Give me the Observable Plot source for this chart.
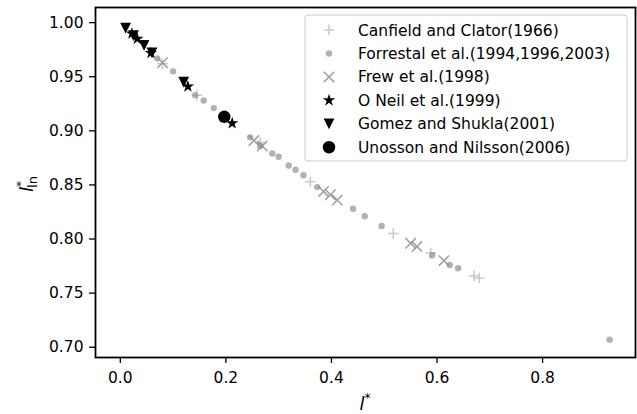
<!DOCTYPE html>
<html>
<head>
<meta charset="utf-8">
<script src="https://cdn.jsdelivr.net/npm/d3@7"></script>
<script src="https://cdn.jsdelivr.net/npm/@observablehq/plot@0.6"></script>
<style>
  html, body { margin: 0; padding: 0; background: white; }
  #chart { width: 637px; height: 414px; }
</style>
</head>
<body>
<div id="chart"></div>
<script>
// ---- data ----
const canfieldX = [0.080, 0.145, 0.265, 0.360, 0.517, 0.588, 0.670, 0.680];
const canfieldY = [0.962, 0.933, 0.889, 0.853, 0.805, 0.787, 0.766, 0.764];

const forrestalX = [0.070, 0.100, 0.142, 0.158, 0.177, 0.246, 0.265, 0.288, 0.300, 0.319, 0.332, 0.347, 0.373, 0.441, 0.463, 0.495, 0.591, 0.624, 0.640, 0.927];
const forrestalY = [0.967, 0.955, 0.933, 0.928, 0.921, 0.894, 0.886, 0.879, 0.876, 0.868, 0.864, 0.859, 0.848, 0.828, 0.821, 0.812, 0.785, 0.776, 0.773, 0.707];

const frewX = [0.080, 0.253, 0.269, 0.385, 0.398, 0.411, 0.550, 0.562, 0.613];
const frewY = [0.963, 0.891, 0.886, 0.844, 0.841, 0.836, 0.796, 0.793, 0.780];

const oneilX = [0.022, 0.032, 0.058, 0.128, 0.212];
const oneilY = [0.990, 0.985, 0.972, 0.941, 0.907];

const gomezX = [0.010, 0.025, 0.045, 0.060, 0.120];
const gomezY = [0.995, 0.988, 0.979, 0.972, 0.945];

const unossonX = [0.197];
const unossonY = [0.913];

const seriesNames = [
  "Canfield and Clator(1966)",
  "Forrestal et al.(1994,1996,2003)",
  "Frew et al.(1998)",
  "O Neil et al.(1999)",
  "Gomez and Shukla(2001)",
  "Unosson and Nilsson(2006)"
];

const xTicks = [0.0, 0.2, 0.4, 0.6, 0.8];
const yTicks = [0.70, 0.75, 0.80, 0.85, 0.90, 0.95, 1.00];

// ---- symbols ----
const triangleDown = {
  draw(ctx, size) {
    const k = Math.sqrt(size / Math.PI);
    ctx.moveTo(-k, -k);
    ctx.lineTo(k, -k);
    ctx.lineTo(0, k);
    ctx.closePath();
  }
};

const styles = [
  {xs: canfieldX, ys: canfieldY, symbol: d3.symbolPlus, r: 3.5, fill: "none", stroke: "#c4c4c4", sw: 1.5, op: 0.9},
  {xs: forrestalX, ys: forrestalY, symbol: d3.symbolCircle, r: 3.2, fill: "#888888", stroke: "none", sw: 0, op: 0.65},
  {xs: frewX, ys: frewY, symbol: d3.symbolTimes, r: 4.8, fill: "none", stroke: "#888888", sw: 1.5, op: 0.8},
  {xs: oneilX, ys: oneilY, symbol: d3.symbolStar, r: 3.9, fill: "black", stroke: "none", sw: 0, op: 1},
  {xs: gomezX, ys: gomezY, symbol: triangleDown, r: 5.4, fill: "black", stroke: "none", sw: 0, op: 1},
  {xs: unossonX, ys: unossonY, symbol: d3.symbolCircle, r: 6.2, fill: "black", stroke: "none", sw: 0, op: 1}
];

const dotMarks = styles.map(s => Plot.dot(
  s.xs.map((x, i) => ({x, y: s.ys[i]})),
  {
    x: "x", y: "y", symbol: s.symbol, r: s.r,
    fill: s.fill, stroke: s.stroke, strokeWidth: s.sw,
    fillOpacity: s.op, strokeOpacity: s.op
  }
));

const fontSize = 15.5;

const plot = Plot.plot({
  width: 637,
  height: 414,
  marginLeft: 95,
  marginRight: 2,
  marginTop: 7,
  marginBottom: 57,
  style: {fontFamily: "DejaVu Sans", fontSize: fontSize + "px", color: "black", background: "white"},
  x: {domain: [-0.047, 0.976]},
  y: {domain: [0.6905, 1.014]},
  marks: [
    ...dotMarks,
    Plot.axisX({ticks: xTicks, tickFormat: d3.format(".1f"), tickSize: 6, tickPadding: 8, label: null, strokeWidth: 1.3}),
    Plot.axisY({ticks: yTicks, tickFormat: d3.format(".2f"), tickSize: 6, tickPadding: 6, label: null, strokeWidth: 1.3}),
    Plot.frame({stroke: "black", strokeWidth: 1.8})
  ]
});

document.getElementById("chart").appendChild(plot);

const svg = d3.select(plot);

// ---- legend ----
const lg = svg.append("g")
  .attr("font-family", "DejaVu Sans")
  .attr("font-size", fontSize)
  .attr("text-anchor", "start");
lg.append("rect")
  .attr("x", 305).attr("y", 15).attr("width", 322).attr("height", 146)
  .attr("rx", 3).attr("ry", 3)
  .attr("fill", "white").attr("fill-opacity", 0.8)
  .attr("stroke", "#cccccc").attr("stroke-width", 1);
seriesNames.forEach((name, i) => {
  const s = styles[i];
  const cy = 30 + i * 23.45;
  lg.append("path")
    .attr("transform", `translate(329,${cy})`)
    .attr("d", d3.symbol(s.symbol, s.r * s.r * Math.PI)())
    .attr("fill", s.fill).attr("stroke", s.stroke).attr("stroke-width", s.sw)
    .attr("fill-opacity", s.op).attr("stroke-opacity", s.op);
  lg.append("text")
    .attr("x", 358).attr("y", cy).attr("dy", "0.36em")
    .attr("text-anchor", "start")
    .attr("fill", "black")
    .text(name);
});

// ---- axis labels ----
const xl = svg.append("text")
  .attr("x", 365).attr("y", 410)
  .attr("text-anchor", "middle")
  .attr("font-family", "DejaVu Sans").attr("font-size", 18)
  .attr("fill", "black");
xl.append("tspan").attr("font-style", "italic").text("l");
xl.append("tspan").attr("dy", -8).attr("font-size", 12).text("*");

const yl = svg.append("text")
  .attr("transform", "translate(33,184) rotate(-90)")
  .attr("text-anchor", "middle")
  .attr("font-family", "DejaVu Sans").attr("font-size", 18)
  .attr("fill", "black");
yl.append("tspan").attr("font-style", "italic").text("l");
yl.append("tspan").attr("dy", -8).attr("font-size", 12).text("*");
yl.append("tspan").attr("dx", -7).attr("dy", 12).attr("font-size", 13).text("ln");
</script>
</body>
</html>
